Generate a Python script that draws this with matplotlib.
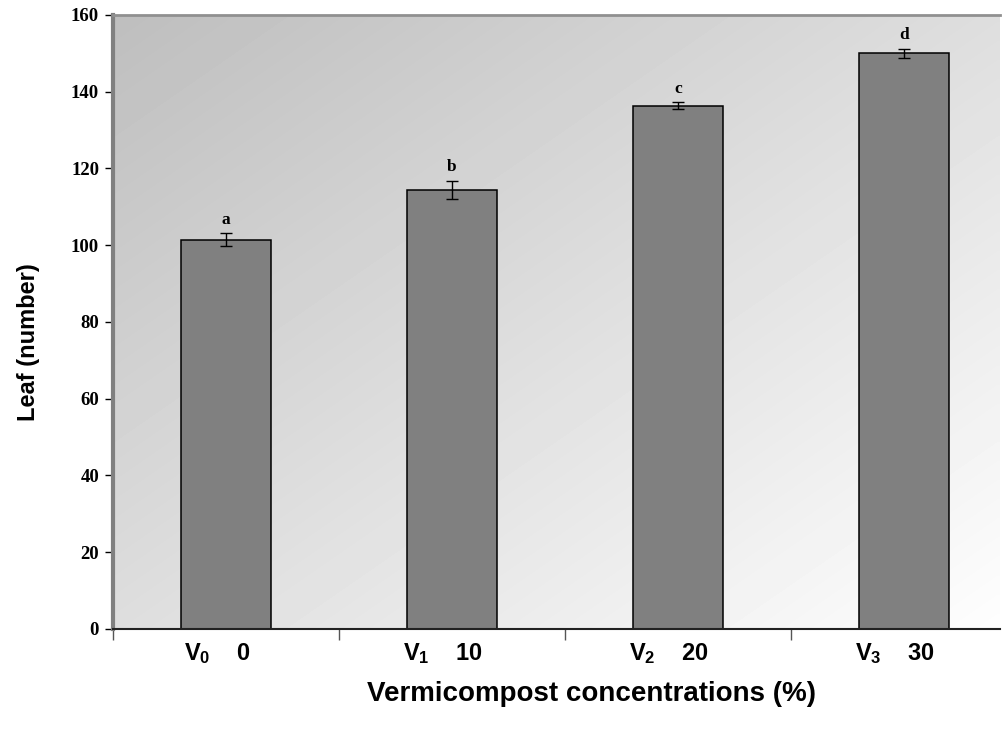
import numpy as np
import matplotlib.pyplot as plt

plt.rcParams['mathtext.fontset'] = 'custom'
plt.rcParams['mathtext.bf'] = 'Liberation Sans:bold'
plt.rcParams['mathtext.rm'] = 'Liberation Sans:bold'

# leaf counts per vermicompost level
labels = [r'$\mathbf{V_0}$    0', r'$\mathbf{V_1}$    10', r'$\mathbf{V_2}$    20', r'$\mathbf{V_3}$    30']
leaf = [101.4, 114.4, 136.3, 150.0]
err = [1.7, 2.3, 0.9, 1.2]
letters = ['a', 'b', 'c', 'd']

fig = plt.figure(figsize=(10.06, 7.34), dpi=100)
ax = fig.add_axes([0.1123, 0.1431, 0.8817, 0.8365])

# diagonal grey shading behind the bars
n = 200
u, v = np.meshgrid(np.linspace(0, 1, n), np.linspace(1, 0, n))
shade = 0.745 + 0.25 * (u + (1 - v)) / 2
ax.imshow(shade, cmap='gray', vmin=0, vmax=1, extent=[0, 1, 0, 1],
          transform=ax.transAxes, aspect='auto', zorder=0, interpolation='bilinear')

x = np.arange(len(leaf))
ax.bar(x, leaf, width=0.4, color='#808080', edgecolor='black', linewidth=1.1, zorder=2)
ax.errorbar(x, leaf, yerr=err, fmt='none', ecolor='black', elinewidth=1,
            capsize=4, capthick=1, zorder=3)
for xi, val, e, s in zip(x, leaf, err, letters):
    ax.text(xi, val + e + 1.5, s, ha='center', va='bottom', fontsize=12.5,
            fontweight='bold', family='Liberation Serif', zorder=4)

ax.set_xlim(-0.5, 3.425)
ax.set_ylim(0, 160)
ax.set_yticks(range(0, 161, 20))
ax.set_yticklabels([str(t) for t in range(0, 161, 20)], fontsize=13.5,
                   fontweight='bold', family='Liberation Serif')
ax.set_xticks(x - 0.04)
ax.set_xticklabels(labels, fontsize=17, fontweight='bold', family='Liberation Sans')
ax.set_xticks([-0.5, 0.5, 1.5, 2.5], minor=True)
ax.tick_params(axis='x', which='major', length=0, pad=9)
ax.tick_params(axis='x', which='minor', length=8, width=1, color='#555555', direction='out')
ax.tick_params(axis='y', length=6, width=1, direction='out', pad=4)

ax.spines['right'].set_visible(False)
ax.spines['top'].set_color('#909090')
ax.spines['top'].set_linewidth(2)
ax.spines['left'].set_color('#808080')
ax.spines['left'].set_linewidth(3)
ax.spines['bottom'].set_color('#222222')
ax.spines['bottom'].set_linewidth(1.5)
for sp in ax.spines.values():
    sp.set_zorder(5)

ax.set_xlabel('Vermicompost concentrations (%)', fontsize=20, fontweight='bold',
              family='Liberation Sans', labelpad=12)
ax.xaxis.set_label_coords(0.539, -0.085)
ax.set_ylabel('Leaf (number)', fontsize=17, fontweight='bold',
              family='Liberation Sans')
ax.yaxis.set_label_coords(-0.082, 0.467)

fig.savefig('out.png', dpi=100)
